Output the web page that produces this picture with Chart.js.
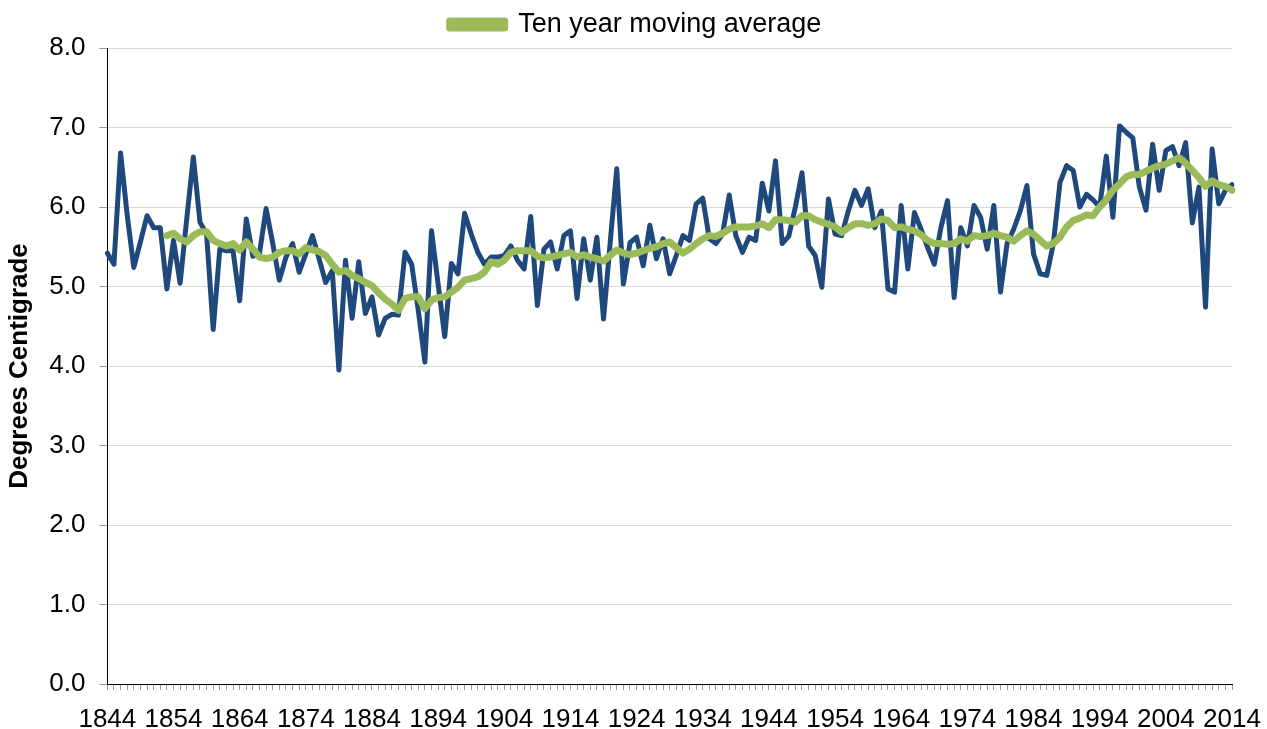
<!DOCTYPE html>
<html>
<head>
<meta charset="utf-8">
<script src="https://cdn.jsdelivr.net/npm/chart.js@4/dist/chart.umd.min.js"></script>
<style>
  body { margin: 0; background: #fff; }
  #wrap { width: 1267px; height: 729px; }
</style>
</head>
<body>
<div id="wrap"><canvas id="chart"></canvas></div>
<script>
"use strict";

const years = [
  1844,1845,1846,1847,1848,1849,1850,1851,1852,1853,1854,1855,1856,1857,1858,1859,1860,1861,1862,1863,
  1864,1865,1866,1867,1868,1869,1870,1871,1872,1873,1874,1875,1876,1877,1878,1879,1880,1881,1882,1883,
  1884,1885,1886,1887,1888,1889,1890,1891,1892,1893,1894,1895,1896,1897,1898,1899,1900,1901,1902,1903,
  1904,1905,1906,1907,1908,1909,1910,1911,1912,1913,1914,1915,1916,1917,1918,1919,1920,1921,1922,1923,
  1924,1925,1926,1927,1928,1929,1930,1931,1932,1933,1934,1935,1936,1937,1938,1939,1940,1941,1942,1943,
  1944,1945,1946,1947,1948,1949,1950,1951,1952,1953,1954,1955,1956,1957,1958,1959,1960,1961,1962,1963,
  1964,1965,1966,1967,1968,1969,1970,1971,1972,1973,1974,1975,1976,1977,1978,1979,1980,1981,1982,1983,
  1984,1985,1986,1987,1988,1989,1990,1991,1992,1993,1994,1995,1996,1997,1998,1999,2000,2001,2002,2003,
  2004,2005,2006,2007,2008,2009,2010,2011,2012,2013,2014
];

const annualTemps = [
  5.42,5.28,6.68,5.90,5.24,5.56,5.89,5.74,5.74,4.97,5.58,5.04,5.85,6.63,5.81,5.66,4.46,5.47,5.45,5.45,
  4.82,5.85,5.38,5.42,5.98,5.54,5.08,5.37,5.54,5.18,5.41,5.64,5.35,5.05,5.20,3.95,5.33,4.60,5.31,4.66,
  4.87,4.39,4.60,4.65,4.64,5.43,5.28,4.70,4.05,5.70,5.03,4.37,5.29,5.16,5.92,5.66,5.43,5.28,5.37,5.37,
  5.39,5.51,5.33,5.22,5.88,4.76,5.47,5.56,5.22,5.64,5.70,4.85,5.60,5.08,5.62,4.59,5.54,6.48,5.03,5.55,
  5.62,5.26,5.77,5.35,5.60,5.16,5.39,5.64,5.58,6.04,6.11,5.60,5.54,5.66,6.15,5.64,5.43,5.62,5.58,6.30,
  5.95,6.58,5.54,5.63,6.00,6.43,5.51,5.39,4.99,6.10,5.66,5.64,5.95,6.21,6.02,6.23,5.74,5.95,4.97,4.93,
  6.02,5.22,5.93,5.72,5.49,5.28,5.74,6.08,4.86,5.74,5.51,6.02,5.87,5.47,6.02,4.93,5.54,5.72,5.95,6.27,
  5.41,5.16,5.14,5.54,6.31,6.52,6.46,6.00,6.16,6.09,6.00,6.64,5.87,7.02,6.94,6.87,6.25,5.96,6.79,6.21,
  6.71,6.76,6.52,6.81,5.80,6.25,4.74,6.73,6.04,6.21,6.28
];

const movingAverage = [
  null,null,null,null,null,null,null,null,null,5.64,5.67,5.60,5.56,5.64,5.69,5.69,5.58,5.54,5.51,5.54,
  5.46,5.56,5.47,5.37,5.35,5.37,5.43,5.45,5.45,5.41,5.49,5.46,5.44,5.39,5.28,5.18,5.20,5.14,5.10,5.05,
  5.01,4.92,4.84,4.78,4.70,4.85,4.87,4.87,4.72,4.83,4.86,4.87,4.93,4.99,5.08,5.10,5.12,5.18,5.31,5.28,
  5.33,5.43,5.45,5.45,5.45,5.38,5.36,5.37,5.39,5.41,5.43,5.37,5.40,5.37,5.35,5.32,5.39,5.46,5.42,5.40,
  5.42,5.45,5.48,5.50,5.54,5.56,5.49,5.42,5.47,5.54,5.60,5.64,5.63,5.67,5.72,5.75,5.75,5.75,5.76,5.79,
  5.74,5.84,5.84,5.83,5.81,5.89,5.89,5.84,5.81,5.78,5.75,5.68,5.74,5.79,5.79,5.77,5.79,5.85,5.83,5.74,
  5.75,5.72,5.70,5.65,5.58,5.54,5.54,5.53,5.54,5.60,5.57,5.64,5.63,5.64,5.67,5.64,5.62,5.57,5.64,5.70,
  5.66,5.58,5.51,5.54,5.62,5.75,5.83,5.86,5.90,5.89,6.00,6.09,6.21,6.29,6.38,6.41,6.41,6.45,6.49,6.52,
  6.54,6.58,6.62,6.55,6.46,6.37,6.26,6.33,6.28,6.26,6.21
];

const yTicks = [0, 1, 2, 3, 4, 5, 6, 7, 8];

const fontFamily = "'Liberation Sans', Arial, sans-serif";

new Chart(document.getElementById('chart'), {
  type: 'line',
  data: {
    labels: years,
    datasets: [
      {
        label: 'Annual mean',
        data: annualTemps,
        borderColor: '#1f497d',
        borderWidth: 5,
        pointRadius: 0,
        tension: 0,
        borderJoinStyle: 'round',
        borderCapStyle: 'round',
        order: 2
      },
      {
        label: 'Ten year moving average',
        data: movingAverage,
        borderColor: '#9bbb59',
        backgroundColor: '#9bbb59',
        borderWidth: 7,
        pointRadius: 0,
        tension: 0,
        borderJoinStyle: 'round',
        borderCapStyle: 'round',
        order: 1
      }
    ]
  },
  options: {
    responsive: true,
    maintainAspectRatio: false,
    animation: false,
    layout: { padding: { left: 4, right: 0, top: 5, bottom: 0 } },
    plugins: {
      tooltip: { enabled: false },
      legend: {
        position: 'top',
        labels: {
          filter: item => item.datasetIndex === 1,
          boxWidth: 55,
          boxHeight: 7,
          padding: 6,
          color: '#000',
          font: { family: fontFamily, size: 27 }
        }
      }
    },
    scales: {
      x: {
        type: 'category',
        offset: false,
        grid: {
          display: true,
          drawOnChartArea: false,
          drawTicks: true,
          tickLength: 6,
          color: '#999'
        },
        border: { display: true, color: '#000', width: 1 },
        ticks: {
          autoSkip: false,
          maxRotation: 0,
          minRotation: 0,
          padding: 18,
          color: '#000',
          font: { family: fontFamily, size: 26, lineHeight: 0.9 },
          callback: function(value, index) {
            return index % 10 === 0 ? this.getLabelForValue(value) : '';
          }
        },
        afterFit: scale => {
          scale.height = 45;
          scale.paddingLeft = 0;
          scale.paddingRight = 35;
        }
      },
      y: {
        min: 0,
        max: 8,
        afterBuildTicks: axis => { axis.ticks = yTicks.map(v => ({ value: v })); },
        grid: {
          color: '#d9d9d9',
          tickLength: 8,
          tickColor: '#999'
        },
        border: { display: true, color: '#000', width: 1 },
        ticks: {
          padding: 14,
          color: '#000',
          font: { family: fontFamily, size: 26 },
          callback: value => value.toFixed(1)
        },
        title: {
          display: true,
          text: 'Degrees Centigrade',
          color: '#000',
          padding: { top: 0, bottom: 0 },
          font: { family: fontFamily, size: 26, weight: 'bold' }
        }
      }
    }
  }
});
</script>
</body>
</html>
